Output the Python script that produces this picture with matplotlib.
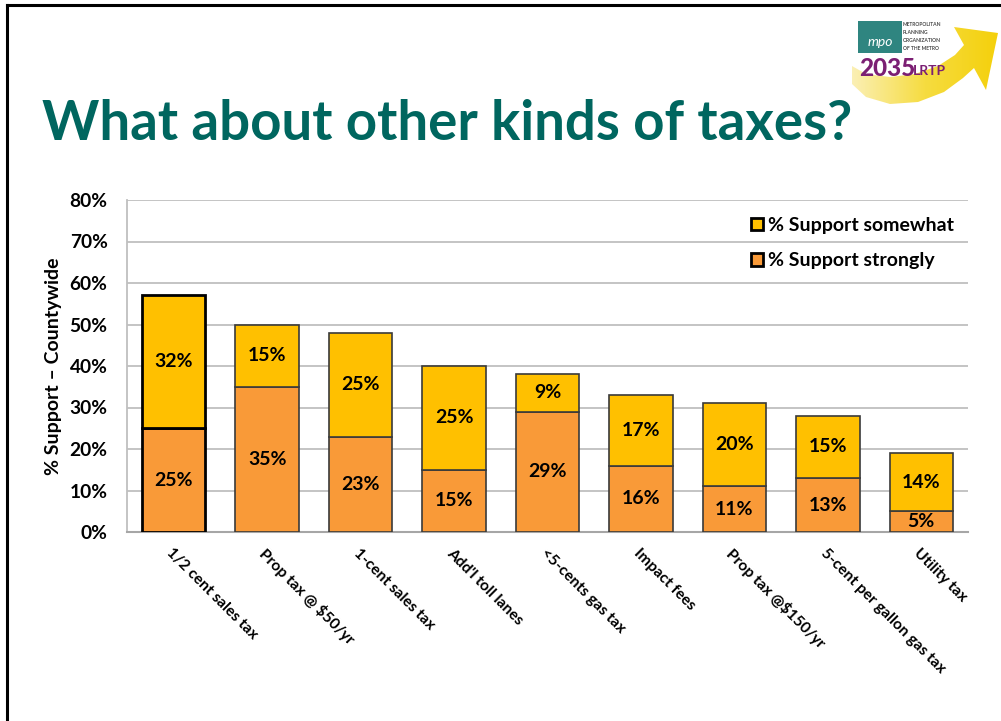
import matplotlib
matplotlib.use("Agg")
import matplotlib.pyplot as plt
from matplotlib.patches import Rectangle, Polygon
from matplotlib.lines import Line2D
import numpy as np

plt.rcParams['font.family'] = ['Lato', 'DejaVu Sans']

categories = ["1/2 cent sales tax", "Prop tax @ $50/yr", "1-cent sales tax",
              "Add'l toll lanes", "<5-cents gas tax", "Impact fees",
              "Prop tax @$150/yr", "5-cent per gallon gas tax", "Utility tax"]
support_strongly = [25, 35, 23, 15, 29, 16, 11, 13, 5]
support_somewhat = [32, 15, 25, 25, 9, 17, 20, 15, 14]
y_ticks = [0, 10, 20, 30, 40, 50, 60, 70, 80]

ORANGE = "#F99A38"
YELLOW = "#FFC000"
TEAL = "#00665F"
GRID = "#BFBFBF"

fig = plt.figure(figsize=(10.01, 7.21), dpi=100)
W, H = 1001, 721


def fx(px):
    return px / W


def fy(py):
    return 1 - py / H


# Slide frame (top and left edges)
fig.add_artist(Line2D([fx(7), fx(1001)], [fy(5), fy(5)], color="black", lw=2.2))
fig.add_artist(Line2D([fx(7), fx(7)], [fy(5), fy(721)], color="black", lw=2.2))

# Title
fig.text(fx(42), fy(124), "What about other kinds of taxes?", color=TEAL,
         fontsize=39.3, fontweight="bold", ha="left", va="center")

# Logo: sweeping yellow arrow with a soft gradient
logo_ax = fig.add_axes([fx(845), fy(110), fx(1001) - fx(845), fy(18) - fy(110)])
logo_ax.set_xlim(845, 1001)
logo_ax.set_ylim(110, 18)
logo_ax.axis("off")
grad = np.linspace(0, 1, 256)[None, :]
grad_cmap = matplotlib.colors.LinearSegmentedColormap.from_list(
    "sweep", ["#FBF0B8", "#F6DC40", "#F4D00A"])
arrow_pts = [(852, 84), (866, 97), (890, 104), (918, 102), (944, 92),
             (963, 78), (974, 68), (986, 90), (998, 33), (954, 27),
             (964, 45), (955, 55), (938, 66), (915, 74), (890, 77),
             (866, 74), (852, 66)]
arrow = Polygon(arrow_pts, closed=True, facecolor="none", edgecolor="none",
                transform=logo_ax.transData)
logo_ax.add_patch(arrow)
img = logo_ax.imshow(grad, cmap=grad_cmap, extent=[850, 1000, 110, 18],
                     aspect="auto", zorder=1)
img.set_clip_path(arrow)
logo_ax.add_patch(Rectangle((858, 21), 44, 32, facecolor="#2F8580",
                            edgecolor="none", zorder=2))
logo_ax.text(880, 42, "mpo", color="white", fontsize=10, style="italic",
             ha="center", va="center", zorder=3)
for i, word in enumerate(["METROPOLITAN", "PLANNING", "ORGANIZATION", "OF THE METRO"]):
    logo_ax.text(903, 25 + i * 8, word, color="#4A4A4A", fontsize=3.6,
                 fontweight="bold", ha="left", va="center", zorder=3)
logo_ax.text(859, 69, "2035", color="#7B1F73", fontsize=17.5,
             fontweight="black", ha="left", va="center", zorder=3)
logo_ax.text(913, 71, "LRTP", color="#7B1F73", fontsize=10,
             fontweight="bold", ha="left", va="center", zorder=3)

# Chart
ax = fig.add_axes([fx(127), fy(532), fx(968) - fx(127), fy(200) - fy(532)])
x = np.arange(len(categories))
bar_w = 0.68

edge_w = [2.0] + [1.2] * (len(categories) - 1)
edge_c = ["black"] + ["#3A3A3A"] * (len(categories) - 1)

b1 = ax.bar(x, support_strongly, bar_w, color=ORANGE, edgecolor=edge_c,
            linewidth=edge_w, label="% Support strongly", zorder=3)
b2 = ax.bar(x, support_somewhat, bar_w, bottom=support_strongly, color=YELLOW,
            edgecolor=edge_c, linewidth=edge_w, label="% Support somewhat", zorder=3)

for i in range(len(categories)):
    s, w = support_strongly[i], support_somewhat[i]
    ax.text(x[i], s / 2, f"{s}%", ha="center", va="center", fontsize=14,
            fontweight="bold", color="black", zorder=4)
    ax.text(x[i], s + w / 2, f"{w}%", ha="center", va="center", fontsize=14,
            fontweight="bold", color="black", zorder=4)

ax.set_xlim(-0.5, len(categories) - 0.5)
ax.set_ylim(0, 80)
ax.set_yticks(y_ticks)
ax.set_yticklabels([f"{v}%" for v in y_ticks], fontsize=13.8, fontweight="bold")
ax.tick_params(axis="y", length=0, pad=14)
ax.set_xticks(x)
ax.set_xticklabels(categories, rotation=-45, ha="left", va="top",
                   rotation_mode="anchor", fontsize=11.2, fontweight="bold")
ax.tick_params(axis="x", length=0, pad=10)

ax.grid(axis="y", color=GRID, lw=1.3, zorder=0)
ax.set_axisbelow(True)
for side in ["top", "right"]:
    ax.spines[side].set_visible(False)
ax.spines["left"].set_color(GRID)
ax.spines["bottom"].set_color("#A6A6A6")
ax.spines["left"].set_linewidth(1.3)
ax.spines["bottom"].set_linewidth(1.5)

ax.set_ylabel("% Support \u2013 Countywide", fontsize=14, fontweight="bold")
ax.yaxis.set_label_coords(-0.077, 0.5)

leg = ax.legend(handles=[b2, b1], loc="upper right", bbox_to_anchor=(1.0, 0.99),
                frameon=False, prop={"size": 14, "weight": "bold"},
                handlelength=0.6, handleheight=0.6, handletextpad=0.3,
                labelspacing=0.95, borderaxespad=0.3)

fig.savefig("out.png", dpi=100)
